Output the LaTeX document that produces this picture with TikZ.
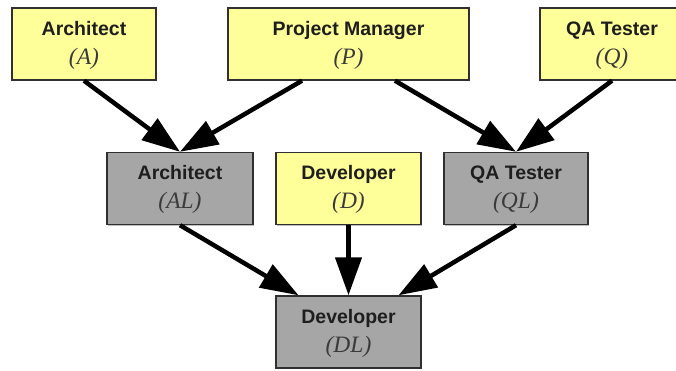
\documentclass[tikz,border=0pt]{standalone}
\usepackage{fontspec}
\setmainfont{Liberation Serif}
\newfontfamily\headfont{Liberation Sans}
\usetikzlibrary{arrows.meta,shadows}

\definecolor{leadyellow}{HTML}{FFFF99}
\definecolor{lanegray}{HTML}{A6A6A6}
\definecolor{boxline}{HTML}{303030}
\definecolor{textdark}{HTML}{1E1E1E}
\definecolor{tagdark}{HTML}{3A3A3A}

\tikzset{
  role/.style={draw=boxline, line width=1.4pt, minimum height=72pt, inner sep=0pt,
    general shadow={shadow xshift=1.2pt, shadow yshift=-1.2pt, fill=black, opacity=0.25}},
  lead/.style={role, fill=leadyellow},
  lane/.style={role, fill=lanegray},
  rolename/.style={anchor=base, inner sep=0pt, text=textdark,
    font=\headfont\bfseries\fontsize{19.5}{20}\selectfont},
  roletag/.style={anchor=base, inner sep=0pt, text=tagdark,
    font=\itshape\fontsize{23.5}{24}\selectfont},
  flow/.style={line width=4.5pt, draw=black, -{Triangle[length=38pt,width=26pt]}},
}

% a role box with its name and its short tag
\newcommand\rolebox[6]{%
  \node[#2, minimum width=#4] (#1) at #3 {};
  \node[rolename] (#1-name) at ([yshift=-28pt]#1.north) {#5};
  \node[roletag]  (#1-tag)  at ([yshift=-57pt]#1.north) {#6};
}

\begin{document}
\begin{tikzpicture}[x=1pt, y=-1pt]
  \useasboundingbox (0,0) rectangle (676,371);

  % top row
  \rolebox{A}{lead}{(84,44)}{144pt}{Architect}{(A)}
  \rolebox{P}{lead}{(348.5,44)}{241pt}{Project Manager}{(P)}
  \rolebox{Q}{lead}{(612,44)}{144pt}{QA Tester}{(Q)}

  % middle row
  \rolebox{AL}{lane}{(180,188.5)}{146pt}{Architect}{(AL)}
  \rolebox{D}{lead}{(348.5,188.5)}{145pt}{Developer}{(D)}
  \rolebox{QL}{lane}{(516,188.5)}{144pt}{QA Tester}{(QL)}

  % bottom row
  \rolebox{DL}{lane}{(348.5,332)}{145pt}{Developer}{(DL)}

  % connectors
  \draw[flow] (A.south) -- (AL.north);
  \draw[flow] ([xshift=-46.5pt]P.south) -- (AL.north);
  \draw[flow] ([xshift=46.5pt]P.south) -- (QL.north);
  \draw[flow] (Q.south) -- (QL.north);
  \draw[flow] (AL.south) -- ([xshift=-50pt]DL.north);
  \draw[flow] (D.south) -- (DL.north);
  \draw[flow] (QL.south) -- ([xshift=50pt]DL.north);
\end{tikzpicture}
\end{document}
